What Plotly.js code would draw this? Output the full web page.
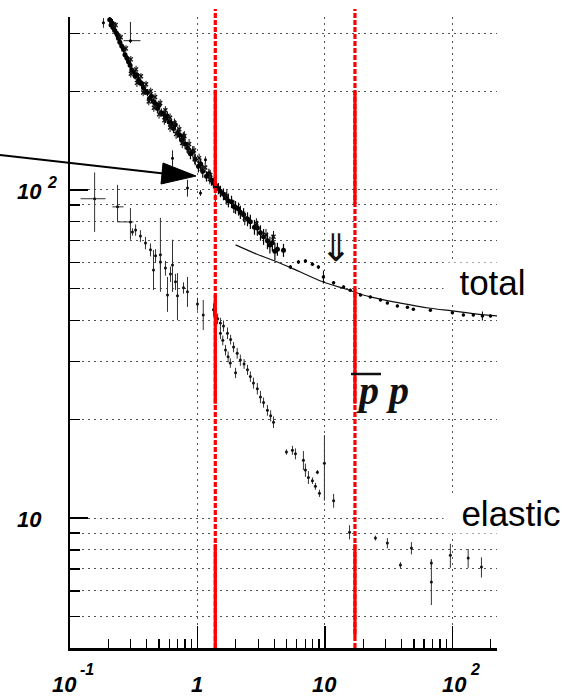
<!DOCTYPE html>
<html><head><meta charset="utf-8">
<script src="https://cdn.plot.ly/plotly-3.0.1.min.js"></script>
<style>html,body{margin:0;padding:0;background:#fff;}#chart{width:565px;height:697px;}</style>
</head><body><div id="chart"></div>
<script>
// ---- total cross-section: dense low-momentum band ----
const totalBandX = [0.205,0.210,0.215,0.219,0.224,0.232,0.240,0.246,0.236,0.255,0.263,0.270,0.280,0.288,0.296,0.305,0.315,0.325,0.335,0.345,0.355,0.365,0.377,0.390,0.405,0.420,0.435,0.450,0.470,0.486,0.500,0.520,0.545,0.561,0.580,0.600,0.625,0.649,0.670,0.700,0.725,0.749,0.775,0.800,0.840,0.881,0.920,0.960,1.018,1.060,1.100,1.177,1.230,1.290,1.335,1.400,1.460,1.514,1.600,1.680,1.750,1.850,1.930,1.990,2.100,2.170,2.300,2.470,2.600,2.800,2.950,3.120,3.300,3.540,3.700,3.870,4.050,4.240,4.730];
const totalBandY = [330,318,322,312,306,300,290,282,296,274,268,258,252,246,240,232,229,222,224,216,212,211,205,200,198,190,193,186,183,177,181,172,170,165,168,161,159,154,158,149,147,142,145,138,134,129,131,124,118,120,114,110,112,107,105,103,101,99,97,94.5,92.5,92,89,88.5,87.5,85.5,84,81.5,80,77,76.5,74,72,70,68,69,65,66,65.5];
const totalBandErr = [8,8,10,8,8,8,7,7,7,7,6,6,6,6,6,6,5,5,5,5,5,5,5,5,5,5,5,5,5,5,5,5,5,5,5,5,5,5,5,5,5,5,5,5,5,5,5,5,5,5,5,4,4,4,4,4,4,4,4,4,4,4,4,4,4,4,4,4,4,4,4,4,4,4,4,4,4,3,3];
// ---- total: further points of the band (upper and lower edges) ----
const totalEdgeX = [0.228,0.250,0.275,0.300,0.330,0.360,0.395,0.430,0.465,0.510,0.560,0.610,0.660,0.720,0.790,0.860,0.940,1.030,1.150,1.260,
  0.300,0.335,0.375,0.415,0.455,0.500,0.550,0.610,0.680,0.760,0.850,0.950,1.080,1.250,1.700,2.350,2.900,3.450,3.950];
const totalEdgeY = [318,292,270,250,233,222,210,200,192,184,175,166,160,153,146,138,132,125,117,111,
  226,212,198,186,178,170,163,155,148,139,132,124,116,108,96,82,79,73,72];
const totalEdgeErr = [7,7,6,6,6,5,5,5,5,5,5,5,5,5,5,5,4,4,4,4,
  6,6,5,5,5,5,5,5,5,5,4,4,4,4,4,4,3,3,3];
// ---- total: isolated points with larger errors ----
const totalOutX = [0.183,0.298,0.637,0.835,1.056,1.155,1.38];
const totalOutY = [323,285,125,101.4,97.9,123.5,94.5];
const totalOutErrUp = [11,40,7,6,2,3,3];
const totalOutErrDown = [11,5,7,6,2,3,3];
const totalOutXErrUp = [0,0.059,0,0,0,0,0];
const totalOutXErrDown = [0,0.035,0,0,0,0,0];
// ---- total: high-momentum points ----
const totalHighX = [5.36,6.2,7.03,7.98,8.89,9.73,11.7,14.0,15.8,19.0,22.7,27.3,30.9,37.0,44.4,49.4,67.2,100,122,146,172,199];
const totalHighY = [58.2,60.3,60.7,59.4,58.2,54.3,52.1,50.6,49.5,47.8,47.2,46.2,45.2,44.3,43.9,43.3,43.0,42.2,41.6,41.6,41.3,41.3];
const totalHighErr = [0.8,0.8,0.8,0.8,0.8,2.5,0.6,0.5,0.5,0.4,0.4,0.4,0.4,0.4,0.4,0.4,0.4,0.4,0.4,0.4,1.3,0.4];
// ---- fit curve through total cross-section ----
const fitX = [1.99,2.90,4.24,6.43,9.73,14.5,22.7,39.1,67.2,100,151,225];
const fitY = [68.0,63.8,60.3,56.2,52.4,49.9,47.2,45.2,43.6,42.8,41.9,41.3];
// ---- elastic cross-section ----
const elasticX = [0.156,0.236,0.298,0.309,0.327,0.357,0.391,0.428,0.452,0.469,0.512,0.512,0.561,0.582,0.614,0.637,0.672,0.697,0.777,0.835,1.0,1.11,1.335,
  1.38,1.44,1.514,1.60,1.72,1.82,1.92,2.05,2.17,2.32,2.47,2.60,2.75,2.95,3.12,3.30,3.54,3.75,3.95,
  1.514,1.58,1.66,1.74,1.81,1.99,
  4.99,5.56,5.87,6.78,7.03,7.42,7.98,8.73,8.42,9.06,9.91,11.7,15.6,24.9,30.9,39.1,47.7,68.4,68.4,96.4,133,169];
const elasticY = [94,88.8,79.9,74.5,75.5,72.4,68.9,65.7,57.0,63.0,63.4,60.3,57.8,47.8,55.4,59.0,52.5,47.6,50.3,48.9,44.9,41.6,43.1,
  41.0,40.5,39.3,38.5,36.6,35.0,33.2,31.8,30.3,29.5,28.3,27.0,25.8,24.8,23.4,22.5,21.3,20.5,19.6,
  36.6,34.8,32.5,31.0,29.7,27.7,
  15.9,16.1,15.7,15.0,14.0,13.3,13.0,13.8,12.5,11.9,14.7,11.3,9.06,8.69,8.39,7.19,8.1,6.38,7.3,7.7,7.55,7.09];
const elasticErrUp = [19,14.8,8.2,2,3,3,3,3,8.6,3,18.8,3,3,6.5,3,11.5,3,8.2,2,5.4,2,4.6,2,
  1.5,1.5,1.5,1.5,1.5,1.2,1.2,1.2,1.2,1.0,1.0,1.0,1.0,1.0,1.0,0.8,0.8,0.8,0.8,
  1.5,1.2,1.2,1.2,1.0,1.0,
  0.3,0.5,0.6,1.0,0.65,0.6,0.3,0.2,0.3,0.3,3.2,0.55,0.45,0.15,0.3,0.15,0.35,1.07,0.2,0.65,0.5,0.5];
const elasticErrDown = [19.5,8.9,9.4,2,3,3,3,3,7.5,3,14.5,3,3,5.3,3,10.1,3,7.5,2,4.9,2,4.2,2,
  1.5,1.5,1.5,1.5,1.5,1.2,1.2,1.2,1.2,1.0,1.0,1.0,1.0,1.0,1.0,0.8,0.8,0.8,0.8,
  1.5,1.2,1.2,1.2,1.0,1.0,
  0.3,0.5,0.6,1.0,0.65,0.6,0.3,0.2,0.3,0.3,3.4,0.55,0.45,0.15,0.3,0.15,0.35,0.95,0.2,0.65,0.5,0.5];
const elasticXErrUp = [0.034,0.027,0.017];
const elasticXErrDown = [0.035,0.021,0.062];
// ---- axes ticks and labels (base and exponent) ----
const xTickVals = [0.1, 1, 10, 100];
const xTickBase = ['10', '1', '10', '10'];
const xTickExp = ['-1', '', '', '2'];
const yTickVals = [100, 10];
const yTickBase = ['10', '10'];
const yTickExp = ['2', ''];
// ---- reference lines (red) ----
const redLineX = [1.38, 17.2];
const redSolidSpans = [[[4.0, 8.33], [22.3, 47.8], [103.6, 201.9]], [[4.37, 8.33], [22.3, 49.9], [90.6, 200]]];
const curveLabels = ['total', 'elastic'];

const W = 565, H = 697, L = 70, R = 68, T = 17, B = 49, PW = W - L - R, PH = H - T - B;
const xRange = [-1, 2.35], yRange = [0.604, 2.527];
const xp = v => (Math.log10(v) - xRange[0]) / (xRange[1] - xRange[0]);
const yp = v => (Math.log10(v) - yRange[0]) / (yRange[1] - yRange[0]);
const pxX = p => (p - L) / PW;
const pxY = p => (H - B - p) / PH;

const padArr = (a, n) => a.concat(new Array(n - a.length).fill(0));

const traces = [
  {x: fitX, y: fitY, mode: 'lines', line: {color: '#111', width: 1.2, shape: 'spline'}, hoverinfo: 'skip'},
  {x: totalBandX, y: totalBandY, mode: 'markers', marker: {size: 5, color: '#000'},
   error_y: {type: 'data', array: totalBandErr, color: '#000', thickness: 1.2, width: 0}},
  {x: totalEdgeX, y: totalEdgeY, mode: 'markers', marker: {size: 4, color: '#111', symbol: 'x-thin', line: {width: 1.3, color: '#111'}},
   error_y: {type: 'data', array: totalEdgeErr, color: '#111', thickness: 1, width: 0}},
  {x: totalOutX, y: totalOutY, mode: 'markers', marker: {size: 3, color: '#000'},
   error_y: {type: 'data', array: totalOutErrUp, arrayminus: totalOutErrDown, symmetric: false, color: '#222', thickness: 1, width: 0},
   error_x: {type: 'data', array: totalOutXErrUp, arrayminus: totalOutXErrDown, symmetric: false, color: '#222', thickness: 1, width: 0}},
  {x: totalHighX, y: totalHighY, mode: 'markers', marker: {size: 3.5, color: '#000'},
   error_y: {type: 'data', array: totalHighErr, color: '#000', thickness: 1, width: 0}},
  {x: elasticX, y: elasticY, mode: 'markers', marker: {size: 3, color: '#111'},
   error_y: {type: 'data', array: elasticErrUp, arrayminus: elasticErrDown, symmetric: false, color: '#333', thickness: 1, width: 0},
   error_x: {type: 'data', array: padArr(elasticXErrUp, elasticX.length), arrayminus: padArr(elasticXErrDown, elasticX.length), symmetric: false, color: '#333', thickness: 1, width: 0}}
];

const shapes = [];
redLineX.forEach((v, i) => {
  const X = xp(v);
  shapes.push({type: 'line', xref: 'paper', yref: 'paper', x0: X, x1: X, y0: 0, y1: pxY(9), layer: 'above',
    line: {color: '#ff0000', width: 3.2, dash: '5px,2px'}});
  redSolidSpans[i].forEach(s => {
    shapes.push({type: 'line', xref: 'paper', yref: 'paper', x0: X, x1: X, y0: Math.max(0, yp(s[0])), y1: yp(s[1]), layer: 'above',
      line: {color: '#ff0000', width: 3.2}});
  });
});
// pointer arrow
shapes.push({type: 'line', xref: 'paper', yref: 'paper', x0: pxX(0), y0: pxY(155), x1: pxX(168), y1: pxY(174), layer: 'above', line: {color: '#000', width: 2}});
shapes.push({type: 'path', xref: 'paper', yref: 'paper', layer: 'above', fillcolor: '#000', line: {color: '#000', width: 1},
  path: 'M' + pxX(196) + ',' + pxY(176) + ' L' + pxX(163) + ',' + pxY(163) + ' L' + pxX(161) + ',' + pxY(184) + ' Z'});
// overline for antiproton
shapes.push({type: 'line', xref: 'paper', yref: 'paper', x0: pxX(351), x1: pxX(381), y0: pxY(374), y1: pxY(374), layer: 'above', line: {color: '#111', width: 2.5}});

const tickFont = {family: 'Liberation Sans, Arial, sans-serif', size: 22, color: '#000', weight: 'bold', style: 'italic'};
const expFont = {family: 'Liberation Sans, Arial, sans-serif', size: 16, color: '#000', weight: 'bold', style: 'italic'};
const xBaseShift = [-6, 0, 0, 2];
const annotations = [];
xTickVals.forEach((v, i) => {
  annotations.push({xref: 'paper', yref: 'paper', x: xp(v), y: pxY(684), yanchor: 'middle', xanchor: 'center',
    xshift: xBaseShift[i], text: xTickBase[i], showarrow: false, font: tickFont});
  if (xTickExp[i]) {
    annotations.push({xref: 'paper', yref: 'paper', x: xp(v), y: pxY(669), yanchor: 'middle', xanchor: 'left',
      xshift: xBaseShift[i] + 14, text: xTickExp[i], showarrow: false, font: expFont});
  }
});
yTickVals.forEach((v, i) => {
  annotations.push({xref: 'paper', yref: 'paper', x: 0, y: yp(v), yanchor: 'middle', xanchor: 'center',
    xshift: -41, yshift: -1.5, text: yTickBase[i], showarrow: false, font: tickFont});
  if (yTickExp[i]) {
    annotations.push({xref: 'paper', yref: 'paper', x: 0, y: yp(v), yanchor: 'middle', xanchor: 'left',
      xshift: -25, yshift: 7, text: yTickExp[i], showarrow: false, font: expFont});
  }
});
annotations.push({xref: 'paper', yref: 'paper', x: pxX(443), y: pxY(282), xanchor: 'left', yanchor: 'middle', width: 97, align: 'center',
  text: curveLabels[0], showarrow: false, bgcolor: '#ffffff', borderpad: 0,
  font: {family: 'Liberation Sans, Arial, sans-serif', size: 35, color: '#000'}});
annotations.push({xref: 'paper', yref: 'paper', x: pxX(443), y: pxY(513), xanchor: 'left', yanchor: 'middle', width: 134, align: 'center',
  text: curveLabels[1], showarrow: false, bgcolor: '#ffffff', borderpad: 0,
  font: {family: 'Liberation Sans, Arial, sans-serif', size: 35, color: '#000'}});
annotations.push({xref: 'paper', yref: 'paper', x: pxX(382), y: pxY(390), xanchor: 'center', yanchor: 'middle',
  text: 'p p', showarrow: false,
  font: {family: 'Liberation Serif, Times New Roman, serif', size: 40, color: '#111', weight: 'bold', style: 'italic'}});
annotations.push({xref: 'paper', yref: 'paper', x: pxX(336), y: pxY(248), xanchor: 'center', yanchor: 'middle',
  text: '⇓', showarrow: false,
  font: {family: 'DejaVu Sans, sans-serif', size: 38, color: '#111'}});

const gridDash = '2px,4px';
const layout = {
  width: W, height: H,
  margin: {l: L, r: R, t: T, b: B, pad: 0},
  paper_bgcolor: '#fff', plot_bgcolor: '#fff',
  showlegend: false,
  xaxis: {type: 'log', range: xRange, showline: true, linecolor: '#000', linewidth: 2.5,
    ticks: 'inside', ticklen: 22, tickwidth: 1.3, tickcolor: '#000', dtick: 1, tick0: 0,
    showticklabels: false, showgrid: true, gridcolor: '#555', gridwidth: 1, griddash: gridDash, zeroline: false,
    minor: {ticks: 'inside', ticklen: 9, tickwidth: 1.3, tickcolor: '#000', dtick: 'D1', showgrid: false}},
  yaxis: {type: 'log', range: yRange, showline: true, linecolor: '#000', linewidth: 2.5,
    ticks: 'inside', ticklen: 18, tickwidth: 1.3, tickcolor: '#000', dtick: 1, tick0: 0,
    showticklabels: false, showgrid: true, gridcolor: '#555', gridwidth: 1, griddash: gridDash, zeroline: false,
    minor: {ticks: 'inside', ticklen: 10, tickwidth: 1.3, tickcolor: '#000', dtick: 'D1', showgrid: true, gridcolor: '#555', gridwidth: 1, griddash: gridDash}},
  shapes: shapes,
  annotations: annotations
};

Plotly.newPlot('chart', traces, layout, {displayModeBar: false, staticPlot: true});
</script>
</body></html>
